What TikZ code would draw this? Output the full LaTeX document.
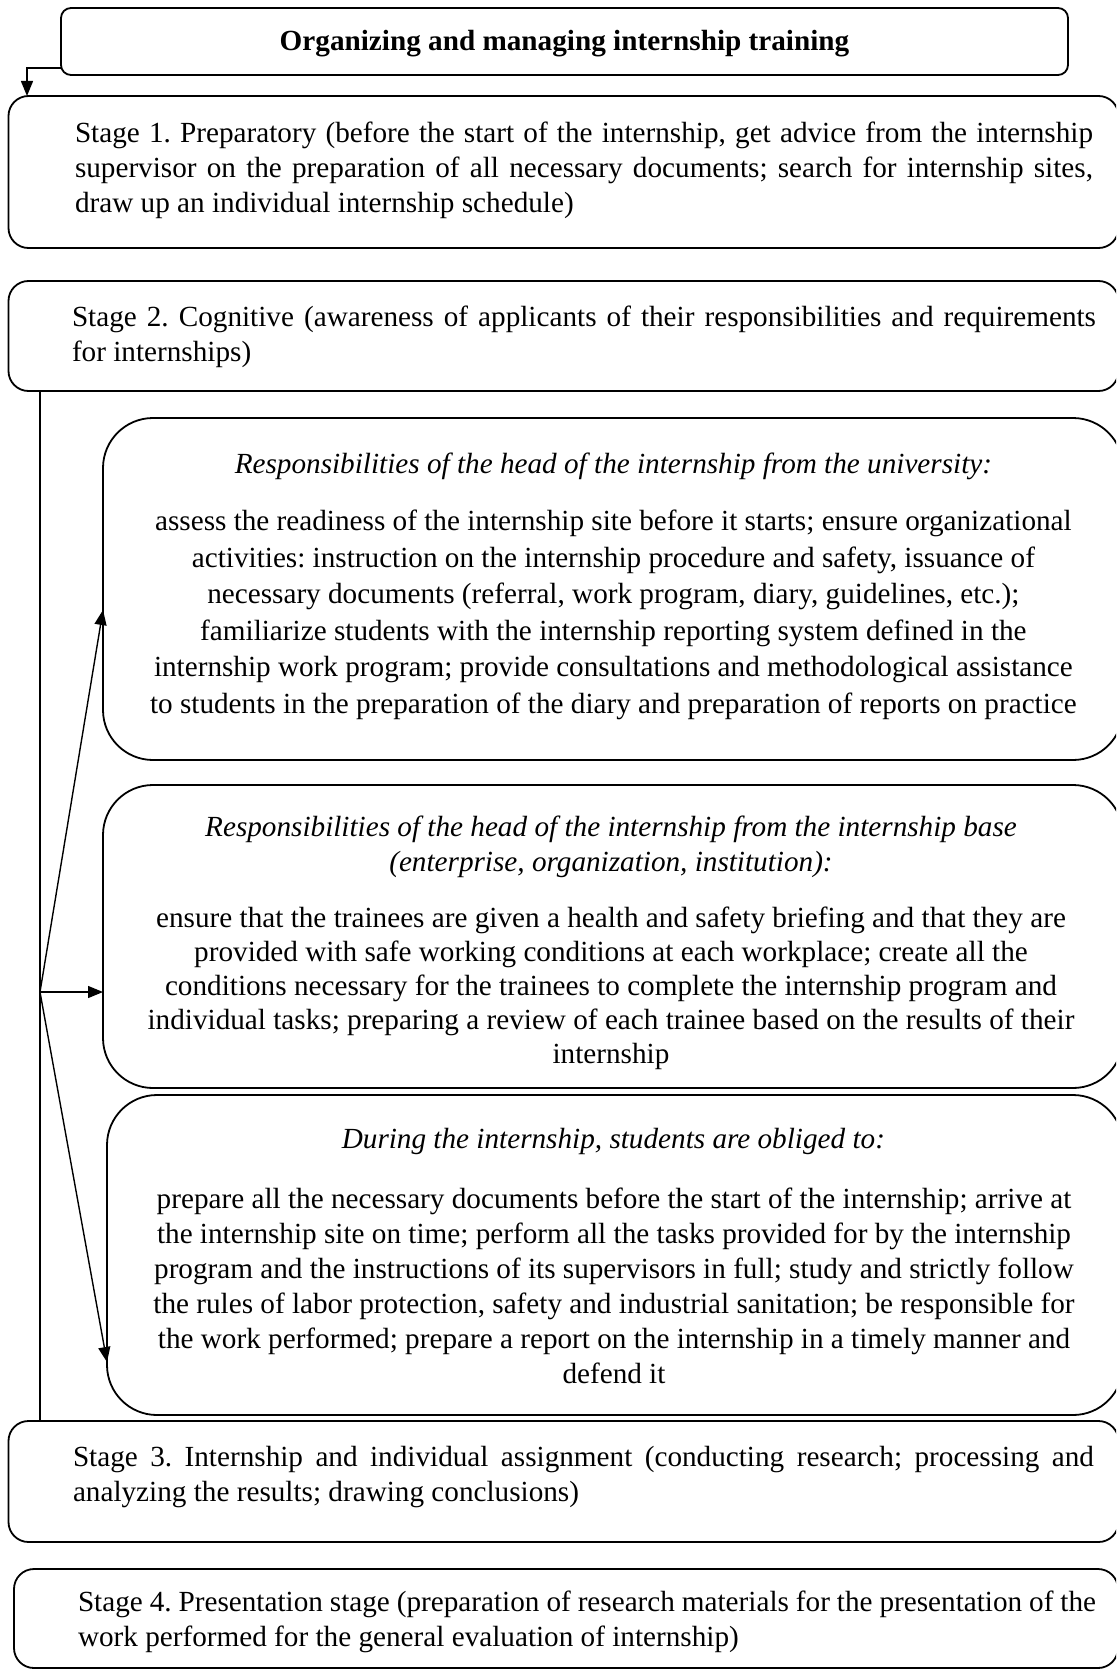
\documentclass[tikz,border=0pt]{standalone}
\usepackage{fontspec}
\setmainfont{Liberation Serif}
\usetikzlibrary{arrows.meta}
\frenchspacing
\tikzset{
  frame/.style={draw, line width=1.8pt, rectangle, inner sep=0pt, outer sep=0pt, anchor=north west},
  stagebox/.style={frame, rounded corners=20pt},
  titlebox/.style={frame, rounded corners=10pt},
  dutybox/.style={frame, rounded corners=50pt},
  txt/.style={inner sep=0pt, outer sep=0pt, font=\fontsize{29.2}{35}\selectfont},
  conn/.style={line width=1.4pt, -{Triangle[length=15pt,width=12pt]}},
  plainline/.style={line width=1.4pt}
}
\begin{document}
\frenchspacing
\begin{tikzpicture}[x=1pt,y=-1pt]
\useasboundingbox (0,0) rectangle (1116,1672);
\clip (0,0) rectangle (1116,1672);

% boxes
\node[titlebox, minimum width=1007pt, minimum height=67pt] (title) at (61,8) {};
\node[stagebox, minimum width=1110pt, minimum height=152pt] (s1) at (8.5,96) {};
\node[stagebox, minimum width=1110pt, minimum height=110pt] (s2) at (8.5,281) {};
\node[dutybox, minimum width=1020pt, minimum height=342pt] (b1) at (103,418) {};
\node[dutybox, minimum width=1020pt, minimum height=303pt] (b2) at (103,785) {};
\node[dutybox, minimum width=1016pt, minimum height=320pt] (b3) at (107,1095) {};
\node[stagebox, minimum width=1110pt, minimum height=121pt] (s3) at (8.5,1421) {};
\node[stagebox, minimum width=1104pt, minimum height=99pt] (s4) at (14,1569) {};

% texts
\node[txt, anchor=base, font=\fontsize{29.2}{35}\selectfont\bfseries] (titletext) at (564.5,51) {Organizing and managing internship training};

\node[txt, anchor=base west] (s1text) at (75,143) {\parbox[t]{1018pt}{\frenchspacing Stage 1. Preparatory (before the start of the internship, get advice from the internship\linebreak supervisor on the preparation of all necessary documents; search for internship sites,\linebreak draw up an individual internship schedule)}};

\node[txt, anchor=base west] (s2text) at (72,326) {\parbox[t]{1024pt}{\frenchspacing Stage 2. Cognitive (awareness of applicants of their responsibilities and requirements\linebreak for internships)}};

\node[txt, anchor=base] (b1head) at (613.4,473) {\itshape Responsibilities of the head of the internship from the university:};
\node[txt, anchor=base, font=\fontsize{29.2}{36.5}\selectfont] (b1text) at (613.4,530.5) {\parbox[t]{1010pt}{\centering\frenchspacing
assess the readiness of the internship site before it starts; ensure organizational\\
activities: instruction on the internship procedure and safety, issuance of\\
necessary documents (referral, work program, diary, guidelines, etc.);\\
familiarize students with the internship reporting system defined in the\\
internship work program; provide consultations and methodological assistance\\
to students in the preparation of the diary and preparation of reports on practice}};

\node[txt, anchor=base] (b2head) at (611,836) {\parbox[t]{1010pt}{\centering\itshape\frenchspacing
Responsibilities of the head of the internship from the internship base\\
(enterprise, organization, institution):}};
\node[txt, anchor=base, font=\fontsize{29.2}{34}\selectfont] (b2text) at (611,927) {\parbox[t]{1010pt}{\centering\frenchspacing
ensure that the trainees are given a health and safety briefing and that they are\\
provided with safe working conditions at each workplace; create all the\\
conditions necessary for the trainees to complete the internship program and\\
individual tasks; preparing a review of each trainee based on the results of their\\
internship}};

\node[txt, anchor=base] (b3head) at (613.4,1148) {\itshape During the internship, students are obliged to:};
\node[txt, anchor=base] (b3text) at (614,1208) {\parbox[t]{1010pt}{\centering\frenchspacing
prepare all the necessary documents before the start of the internship; arrive at\\
the internship site on time; perform all the tasks provided for by the internship\\
program and the instructions of its supervisors in full; study and strictly follow\\
the rules of labor protection, safety and industrial sanitation; be responsible for\\
the work performed; prepare a report on the internship in a timely manner and\\
defend it}};

\node[txt, anchor=base west] (s3text) at (73,1466.7) {\parbox[t]{1021pt}{\frenchspacing Stage 3. Internship and individual assignment (conducting research; processing and\linebreak analyzing the results; drawing conclusions)}};

\node[txt, anchor=base west] (s4text) at (78,1611.7) {\parbox[t]{1018pt}{\frenchspacing Stage 4. Presentation stage (preparation of research materials for the presentation of the\linebreak work performed for the general evaluation of internship)}};

% connectors
\coordinate (tx) at (27,0);
\coordinate (ty) at (0,68);
\draw[conn] (title.west |- ty) -| (s1.north -| tx);

\coordinate (vx) at (40,0);
\draw[plainline] (s2.south -| vx) -- (s3.north -| vx);
\coordinate (split) at (40,992);
\coordinate (t1) at (0,610);
\coordinate (t3) at (0,1362);
\draw[conn] (split) -- (b1.west |- t1);
\draw[conn] (split) -- (b2.west |- split);
\draw[conn] (split) -- (b3.west |- t3);
\end{tikzpicture}
\end{document}
